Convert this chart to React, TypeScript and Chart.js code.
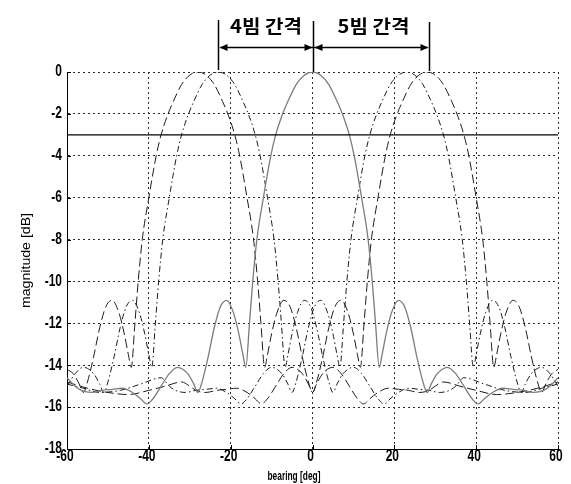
import { useEffect, useRef } from "react";
import { Chart, registerables } from "chart.js";

Chart.register(...registerables);

// ---- data (deg, dB) ----
const xTicks = [-60, -40, -20, 0, 20, 40, 60];
const yTicks = [0, -2, -4, -6, -8, -10, -12, -14, -16, -18];
const halfPowerLevel = -3;
const bracketAngles = [-23, 0, 28.5];
const bracketLabels = ["4빔 간격", "5빔 간격"];
const xTitle = "bearing [deg]";
const yTitle = "magnitude [dB]";

const solidPts: [number, number][] = [
  [-60, -14.6], [-58, -15.0], [-56.5, -15.2], [-54, -15.3], [-51.5, -15.2], [-49, -15.15], [-46.5, -15.1],
  [-44, -15.3], [-42, -15.6], [-40.5, -15.85], [-39, -15.6], [-37, -15.0], [-35, -14.4], [-33, -14.1],
  [-30.5, -14.4], [-29, -14.9], [-28, -15.3], [-27, -14.8], [-25.5, -13.6], [-24, -12.2], [-22.5, -11.2],
  [-21, -10.9], [-19.3, -11.5], [-18, -12.5], [-17, -13.5], [-16.3, -14.1], [-15.4, -12], [-14.6, -10],
  [-13.6, -8], [-12, -6], [-10.2, -4], [-9, -3], [-7.5, -2.1], [-6, -1.4], [-4, -0.6], [-2, -0.15], [0, 0],
  [2, -0.15], [4, -0.6], [6, -1.4], [7.5, -2.1], [9, -3], [10.2, -4], [12, -6], [13.6, -8], [14.6, -10],
  [15.4, -12], [16.3, -14.1], [17, -13.5], [18, -12.5], [19.3, -11.5], [21, -10.9], [22.5, -11.2],
  [24, -12.2], [25.5, -13.6], [27, -14.8], [28, -15.3], [29, -14.9], [30.5, -14.4], [33, -14.1], [35, -14.4],
  [37, -15.0], [39, -15.6], [40.5, -15.85], [42, -15.6], [44, -15.3], [46.5, -15.1], [49, -15.15],
  [51.5, -15.2], [54, -15.3], [56.5, -15.2], [58, -15.0], [60, -14.6],
];

const dashedLeftPts: [number, number][] = [
  [-60, -14.2], [-58.5, -14.4], [-57, -14.9], [-56, -15.3], [-55, -14.8], [-53.5, -13.6], [-52, -12.2],
  [-50.5, -11.2], [-49, -10.9], [-47.3, -11.5], [-46, -12.5], [-45, -13.5], [-44.3, -14.1], [-43.4, -12],
  [-42.6, -10], [-41.6, -8], [-40, -6], [-38.2, -4], [-37, -3], [-35.5, -2.1], [-34, -1.4], [-32, -0.6],
  [-30, -0.15], [-28, 0], [-26, -0.15], [-24, -0.6], [-22, -1.4], [-20.5, -2.1], [-19, -3], [-17.8, -4],
  [-16, -6], [-14.4, -8], [-13.4, -10], [-12.6, -12], [-11.7, -14.1], [-11, -13.5], [-10, -12.5],
  [-8.7, -11.5], [-7, -10.9], [-5.5, -11.2], [-4, -12.2], [-2.5, -13.6], [-1, -14.8], [0, -15.3],
  [1, -14.9], [2.5, -14.4], [5, -14.1], [7, -14.4], [9, -15.0], [11, -15.6], [12.5, -15.85], [14, -15.6],
  [16, -15.3], [18.5, -15.1], [21, -15.15], [23.5, -15.2], [26, -15.3], [28.5, -15.2], [30, -15.0],
  [32, -14.8], [36, -15.0], [40, -15.2], [45, -15.4], [50, -15.3], [55, -15.1], [60, -14.8],
];

const dashedRightPts: [number, number][] = [
  [-60, -14.8], [-55, -15.1], [-50, -15.3], [-45, -15.4], [-40, -15.2], [-36, -15.0], [-32, -14.8],
  [-30, -15.0], [-28.5, -15.2], [-26, -15.3], [-23.5, -15.2], [-21, -15.15], [-18.5, -15.1], [-16, -15.3],
  [-14, -15.6], [-12.5, -15.85], [-11, -15.6], [-9, -15.0], [-7, -14.4], [-5, -14.1], [-2.5, -14.4],
  [-1, -14.9], [0, -15.3], [1, -14.8], [2.5, -13.6], [4, -12.2], [5.5, -11.2], [7, -10.9], [8.7, -11.5],
  [10, -12.5], [11, -13.5], [11.7, -14.1], [12.6, -12], [13.4, -10], [14.4, -8], [16, -6], [17.8, -4],
  [19, -3], [20.5, -2.1], [22, -1.4], [24, -0.6], [26, -0.15], [28, 0], [30, -0.15], [32, -0.6], [34, -1.4],
  [35.5, -2.1], [37, -3], [38.2, -4], [40, -6], [41.6, -8], [42.6, -10], [43.4, -12], [44.3, -14.1],
  [45, -13.5], [46, -12.5], [47.3, -11.5], [49, -10.9], [50.5, -11.2], [52, -12.2], [53.5, -13.6],
  [55, -14.8], [56, -15.3], [57, -14.9], [58.5, -14.4], [60, -14.2],
];

const dashDotLeftPts: [number, number][] = [
  [-60, -15.0], [-58, -14.4], [-56, -14.1], [-53.5, -14.4], [-52, -14.9], [-51, -15.3], [-50, -14.8],
  [-48.5, -13.6], [-47, -12.2], [-45.5, -11.2], [-44, -10.9], [-42.3, -11.5], [-41, -12.5], [-40, -13.5],
  [-39.3, -14.1], [-38.4, -12], [-37.6, -10], [-36.6, -8], [-35, -6], [-33.2, -4], [-32, -3], [-30.5, -2.1],
  [-29, -1.4], [-27, -0.6], [-25, -0.15], [-23, 0], [-21, -0.15], [-19, -0.6], [-17, -1.4], [-15.5, -2.1],
  [-14, -3], [-12.8, -4], [-11, -6], [-9.4, -8], [-8.4, -10], [-7.6, -12], [-6.7, -14.1], [-6, -13.5],
  [-5, -12.5], [-3.7, -11.5], [-2, -10.9], [-0.5, -11.2], [1, -12.2], [2.5, -13.6], [4, -14.8], [5, -15.3],
  [6, -14.9], [7.5, -14.4], [10, -14.1], [12, -14.4], [14, -15.0], [16, -15.6], [17.5, -15.85], [19, -15.6],
  [21, -15.3], [23.5, -15.1], [26, -15.15], [28.5, -15.2], [31, -15.3], [33.5, -15.2], [35, -15.0],
  [37, -14.6], [42, -14.9], [47, -15.2], [52, -15.3], [56, -15.1], [60, -14.9],
];

const dashDotRightPts: [number, number][] = [
  [-60, -14.9], [-56, -15.1], [-52, -15.3], [-47, -15.2], [-42, -14.9], [-37, -14.6], [-35, -15.0],
  [-33.5, -15.2], [-31, -15.3], [-28.5, -15.2], [-26, -15.15], [-23.5, -15.1], [-21, -15.3], [-19, -15.6],
  [-17.5, -15.85], [-16, -15.6], [-14, -15.0], [-12, -14.4], [-10, -14.1], [-7.5, -14.4], [-6, -14.9],
  [-5, -15.3], [-4, -14.8], [-2.5, -13.6], [-1, -12.2], [0.5, -11.2], [2, -10.9], [3.7, -11.5], [5, -12.5],
  [6, -13.5], [6.7, -14.1], [7.6, -12], [8.4, -10], [9.4, -8], [11, -6], [12.8, -4], [14, -3], [15.5, -2.1],
  [17, -1.4], [19, -0.6], [21, -0.15], [23, 0], [25, -0.15], [27, -0.6], [29, -1.4], [30.5, -2.1], [32, -3],
  [33.2, -4], [35, -6], [36.6, -8], [37.6, -10], [38.4, -12], [39.3, -14.1], [40, -13.5], [41, -12.5],
  [42.3, -11.5], [44, -10.9], [45.5, -11.2], [47, -12.2], [48.5, -13.6], [50, -14.8], [51, -15.3],
  [52, -14.9], [53.5, -14.4], [56, -14.1], [58, -14.4], [60, -15.0],
];

const toXY = (pts: [number, number][]) => pts.map(([x, y]) => ({ x, y }));

function drawFitted(
  ctx: CanvasRenderingContext2D,
  text: string,
  cx: number,
  cy: number,
  font: string,
  targetW: number,
  sy: number,
  rotate = false
) {
  ctx.save();
  ctx.font = font;
  const m = ctx.measureText(text);
  const sx = targetW / m.width;
  ctx.translate(cx, cy);
  if (rotate) ctx.rotate(-Math.PI / 2);
  ctx.scale(sx, sy);
  ctx.textAlign = "center";
  ctx.textBaseline = "middle";
  ctx.fillStyle = "#000";
  ctx.fillText(text, 0, 0);
  ctx.restore();
}

const overlayPlugin = {
  id: "overlay",
  afterDraw(chart: any) {
    const { ctx, chartArea: a } = chart;
    const xs = chart.scales.x;
    const ys = chart.scales.y;
    ctx.save();
    // inward tick marks
    ctx.strokeStyle = "#000";
    ctx.lineWidth = 1;
    ctx.setLineDash([]);
    ctx.beginPath();
    xTicks.forEach((v) => {
      const px = Math.round(xs.getPixelForValue(v)) + 0.5;
      ctx.moveTo(px, a.bottom);
      ctx.lineTo(px, a.bottom - 4);
    });
    yTicks.forEach((v) => {
      const py = Math.round(ys.getPixelForValue(v)) + 0.5;
      ctx.moveTo(a.left, py);
      ctx.lineTo(a.left + 4, py);
    });
    ctx.stroke();

    // tick labels
    ctx.fillStyle = "#000";
    ctx.font = 'bold 12px "Liberation Sans", Arial, sans-serif';
    yTicks.forEach((v) => {
      const py = ys.getPixelForValue(v);
      ctx.save();
      ctx.translate(a.left - 5, py);
      ctx.scale(1, 1.3);
      ctx.textAlign = "right";
      ctx.textBaseline = "middle";
      ctx.fillText(String(v), 0, 0);
      ctx.restore();
    });
    xTicks.forEach((v) => {
      const px = xs.getPixelForValue(v);
      ctx.save();
      ctx.translate(px - 2, a.bottom + 8);
      ctx.scale(1, 1.3);
      ctx.textAlign = "center";
      ctx.textBaseline = "middle";
      ctx.fillText(String(v), 0, 0);
      ctx.restore();
    });

    // axis titles
    drawFitted(ctx, xTitle, 294, 477, 'bold 11px "Liberation Sans", Arial, sans-serif', 53, 1.1);
    drawFitted(ctx, yTitle, 27, (a.top + a.bottom) / 2, '11px "Liberation Sans", Arial, sans-serif', 95, 1.15, true);

    // brackets
    const bx = bracketAngles.map((v) => Math.round(xs.getPixelForValue(v)) + 0.5);
    const arrowY = 47.5;
    ctx.strokeStyle = "#000";
    ctx.lineWidth = 1.5;
    ctx.beginPath();
    ctx.moveTo(bx[0], 20);
    ctx.lineTo(bx[0], 70);
    ctx.moveTo(bx[1], 21);
    ctx.lineTo(bx[1], a.top);
    ctx.moveTo(bx[2], 22);
    ctx.lineTo(bx[2], 71);
    ctx.stroke();
    ctx.lineWidth = 1.3;
    ctx.beginPath();
    ctx.moveTo(bx[0] + 2, arrowY);
    ctx.lineTo(bx[2] - 2, arrowY);
    ctx.stroke();
    const head = (tipX: number, dir: number) => {
      ctx.beginPath();
      ctx.moveTo(tipX, arrowY);
      ctx.lineTo(tipX + dir * 8, arrowY - 3.5);
      ctx.lineTo(tipX + dir * 8, arrowY + 3.5);
      ctx.closePath();
      ctx.fill();
    };
    ctx.fillStyle = "#000";
    head(bx[0] + 1, 1);
    head(bx[1] - 1, -1);
    head(bx[1] + 1, 1);
    head(bx[2] - 1, -1);

    const font = 'bold 17px "Noto Sans CJK KR", sans-serif';
    drawFitted(ctx, bracketLabels[0], (bx[0] + bx[1]) / 2, 26, font, 72, 1.05);
    drawFitted(ctx, bracketLabels[1], (bx[1] + bx[2]) / 2 + 2, 26, font, 72, 1.05);
    ctx.restore();
  },
};

export default function App() {
  const ref = useRef<HTMLCanvasElement | null>(null);
  useEffect(() => {
    if (!ref.current) return;
    const dashedStyle = { borderColor: "#1c1c1c", borderWidth: 1, borderDash: [9, 4] };
    const dashDotStyle = { borderColor: "#1c1c1c", borderWidth: 1, borderDash: [6, 3, 1.5, 3] };
    const chart = new Chart(ref.current, {
      type: "line",
      data: {
        datasets: [
          {
            label: "-3 dB",
            data: [
              { x: xTicks[0], y: halfPowerLevel },
              { x: xTicks[xTicks.length - 1], y: halfPowerLevel },
            ],
            borderColor: "#000",
            borderWidth: 1.3,
          },
          { label: "beam 0", data: toXY(solidPts), borderColor: "#7c7c7c", borderWidth: 1.3 },
          { label: "beam -28", data: toXY(dashedLeftPts), ...dashedStyle },
          { label: "beam +28", data: toXY(dashedRightPts), ...dashedStyle },
          { label: "beam -23", data: toXY(dashDotLeftPts), ...dashDotStyle },
          { label: "beam +23", data: toXY(dashDotRightPts), ...dashDotStyle },
        ] as any,
      },
      options: {
        animation: false,
        responsive: false,
        devicePixelRatio: 1,
        parsing: true,
        layout: { padding: { top: 72, right: 13, left: 0, bottom: 0 } },
        plugins: { legend: { display: false }, tooltip: { enabled: false } },
        elements: {
          point: { radius: 0 },
          line: { cubicInterpolationMode: "monotone", fill: false },
        },
        scales: {
          x: {
            type: "linear",
            min: -60,
            max: 60,
            ticks: { stepSize: 20, display: false },
            grid: { color: "#2a2a2a", lineWidth: 1, drawTicks: false },
            border: { display: true, color: "#000", width: 1, dash: [2, 3] },
            afterFit: (s: any) => {
              s.height = 35;
            },
          },
          y: {
            type: "linear",
            min: -18,
            max: 0,
            ticks: { stepSize: 2, display: false },
            grid: { color: "#2a2a2a", lineWidth: 1, drawTicks: false },
            border: { display: true, color: "#000", width: 1, dash: [2, 3] },
            afterFit: (s: any) => {
              s.width = 67;
            },
          },
        },
      } as any,
      plugins: [overlayPlugin],
    });
    return () => chart.destroy();
  }, []);

  return (
    <div style={{ position: "absolute", left: 0, top: 0, width: 571, height: 484, background: "#fff" }}>
      <canvas ref={ref} width={571} height={484} style={{ display: "block", width: 571, height: 484 }} />
    </div>
  );
}
